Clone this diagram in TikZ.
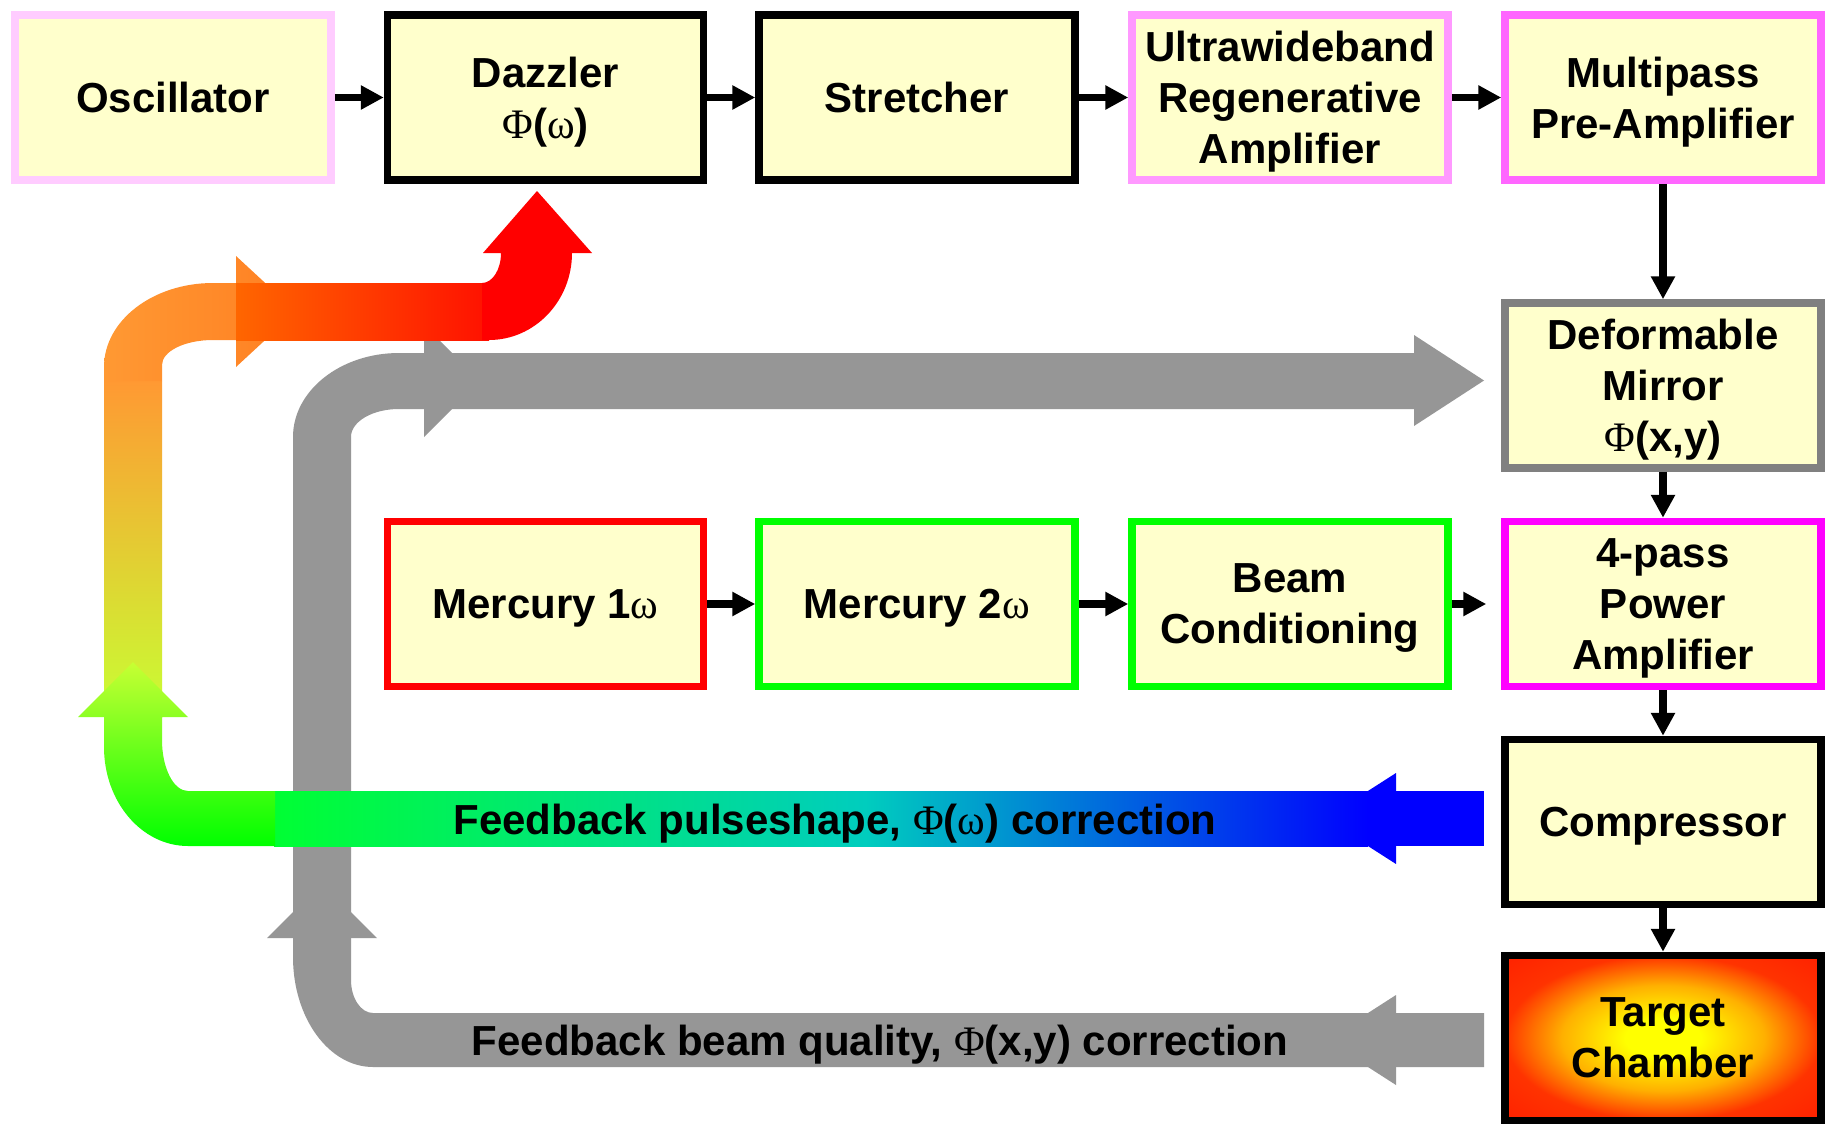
\documentclass[tikz,border=0pt]{standalone}
\usepackage{fontspec}
\setmainfont{Liberation Sans}
\newfontfamily\grk{Liberation Serif}
\usetikzlibrary{arrows.meta}
\newcommand{\Phs}{{\grk\mdseries Φ}}
\newcommand{\oms}{{\grk\mdseries ω}}
\definecolor{boxfill}{HTML}{FFFFCC}
\definecolor{oscb}{HTML}{FFCCFF}
\definecolor{uwrb}{HTML}{FF99FF}
\definecolor{mpab}{HTML}{FF66FF}
\definecolor{dmb}{HTML}{808080}
\definecolor{pab}{HTML}{FF00FF}
\definecolor{mredb}{HTML}{FF0000}
\definecolor{mgrnb}{HTML}{00FF00}
\definecolor{grayarr}{HTML}{969696}
\definecolor{pgA}{HTML}{00FF33}
\definecolor{pgM}{HTML}{00CDBE}
\definecolor{pgB}{HTML}{0000FF}
\definecolor{tcA}{HTML}{FFFF00}
\definecolor{tcB}{HTML}{FFB000}
\definecolor{tcC}{HTML}{FF3300}
\definecolor{tcD}{HTML}{FF2000}
\definecolor{orA}{HTML}{FF9933}
\definecolor{orB}{HTML}{FF7F22}
\definecolor{orC}{HTML}{FF6600}
\definecolor{rdA}{HTML}{FF1100}
\definecolor{limeA}{HTML}{C8FF33}
\definecolor{grnA}{HTML}{00FF00}
\pgfdeclarehorizontalshading{pulsebar}{100bp}{color(0bp)=(pgA); color(25bp)=(pgA); color(52bp)=(pgM); color(75bp)=(pgB); color(100bp)=(pgB)}
\pgfdeclareradialshading{chamber}{\pgfpoint{0bp}{0bp}}{color(0bp)=(tcA); color(6bp)=(tcA); color(16bp)=(tcB); color(25bp)=(tcC); color(36bp)=(tcD); color(50bp)=(tcD)}
\begin{document}
\begin{tikzpicture}[x=1pt,y=-1pt,
  box/.style={draw=black, line width=7.5pt, fill=boxfill, minimum width=316pt, minimum height=165pt,
    inner sep=0pt, align=center, text depth=0pt, font=\fontsize{42}{51}\selectfont\bfseries},
  conn/.style={line width=7.5pt, -{Triangle[width=23pt,length=23pt]}},
  lbl/.style={font=\fontsize{42}{51}\selectfont\bfseries, anchor=base, inner sep=0pt}]
\fill[white] (0,0) rectangle (1832,1124);
\useasboundingbox (0,0) rectangle (1832,1124);

% gray feedback arrow (beam quality)
\fill[grayarr] (1484,1013) -- (373,1013) .. controls (360.8,1013) and (351,998.2) .. (351,980)
  -- (351,437) .. controls (351,421.5) and (372.5,409) .. (399,409) -- (1414,409) -- (1414,353)
  -- (399,353) .. controls (340.5,353) and (293,390.6) .. (293,437) -- (293,957)
  .. controls (293,1017.8) and (328.8,1067) .. (373,1067) -- (1484,1067) -- cycle;
\fill[grayarr] (1396,995) -- (1396,1085) -- (1326,1040) -- cycle;
\fill[grayarr] (267,938) -- (377,938) -- (322,883) -- cycle;
\fill[grayarr] (424,325) -- (424,437) -- (480,381) -- cycle;
\fill[grayarr] (1414,335) -- (1414,426) -- (1484,380.5) -- cycle;

% coloured feedback arrow (pulse shape)
\fill[pgB] (1396,791) rectangle (1484,846);
\fill[pgB] (1396,773) -- (1396,864) -- (1325,818.5) -- cycle;
\shade[shading=pulsebar] (274,791) rectangle (1368,846);
\shade[top color=orA, bottom color=limeA] (104,381) rectangle (162,717);
\shade[top color=limeA, bottom color=grnA] (275,791) -- (188,791) .. controls (173.6,791) and (162,768.2) .. (162,740)
  -- (162,717) -- (188,717) -- (133,662) -- (78,717) -- (104,717) -- (104,747)
  .. controls (104,801.7) and (141.6,846) .. (188,846) -- (275,846) -- cycle;
\shade[left color=orA, right color=orB] (104,381) -- (104,367) .. controls (104,320.6) and (152.8,283) .. (213,283)
  -- (236,283) -- (236,256) -- (296,311.5) -- (236,367) -- (236,340) -- (213,340)
  .. controls (184.8,340) and (162,351.2) .. (162,365) -- (162,381) -- cycle;
\shade[left color=orC, right color=rdA] (236,283) rectangle (489,340);
\fill[red] (482,340) -- (482,283) .. controls (492.5,283) and (501,269.6) .. (501,253) -- (483,253)
  -- (537,191) -- (592,253) -- (572,253) .. controls (572,301) and (534.8,340) .. (489,340) -- cycle;

\node[lbl] (fbp) at (835,834.5) {Feedback pulseshape, \Phs(\oms) correction};
\node[lbl] (fbq) at (880,1055.5) {Feedback beam quality, \Phs(x,y) correction};

% boxes
\node[box, draw=oscb] (osc) at (173,97.5) {Oscillator};
\node[box] (daz) at (545.5,97.5) {Dazzler\\\Phs(\oms)};
\node[box] (str) at (917,97.5) {Stretcher};
\node[box, draw=uwrb] (uwr) at (1290,97.5) {Ultrawideband\\Regenerative\\Amplifier};
\node[box, draw=mpab] (mpa) at (1663,97.5) {Multipass\\Pre-Amplifier};
\node[box, draw=dmb] (dm) at (1663,385.5) {Deformable\\Mirror\\\Phs(x,y)};
\node[box, draw=pab] (pa4) at (1663,604) {4-pass\\Power\\Amplifier};
\node[box] (cmp) at (1663,822) {Compressor};
\node[box, shading=chamber] (tc) at (1663,1038) {Target\\Chamber};
\node[box, draw=mredb] (m1) at (545.5,604) {Mercury 1\oms};
\node[box, draw=mgrnb] (m2) at (917,604) {Mercury 2\oms};
\node[box, draw=mgrnb] (bc) at (1290,604) {Beam\\Conditioning};

% connectors
\draw[conn] (osc.east) -- (daz.west);
\draw[conn] (daz.east) -- (str.west);
\draw[conn] (str.east) -- (uwr.west);
\draw[conn] (uwr.east) -- (mpa.west);
\draw[conn] (mpa.south) -- (dm.north);
\draw[conn] (dm.south) -- (pa4.north);
\draw[conn] (pa4.south) -- (cmp.north);
\draw[conn] (cmp.south) -- (tc.north);
\draw[conn] (m1.east) -- (m2.west);
\draw[conn] (m2.east) -- (bc.west);
\draw[conn, shorten >=15pt] (bc.east) -- (pa4.west);
\end{tikzpicture}
\end{document}
